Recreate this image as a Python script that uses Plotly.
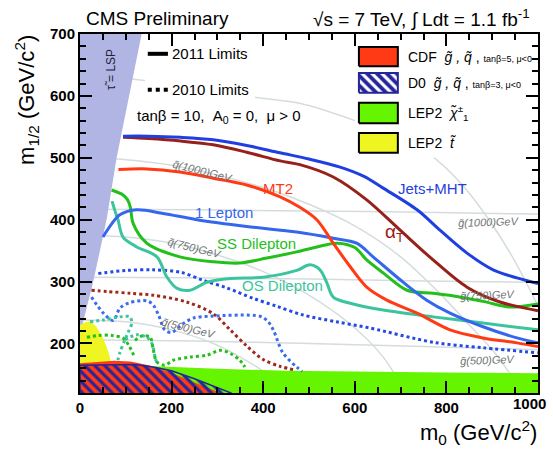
import plotly.graph_objects as go

# ---------------- data (m0, m1/2 in GeV/c^2) ----------------
# 2011 limits (solid)
jets_mht_m0 = [94, 150, 220, 291, 364, 437, 500, 568, 620, 662, 736, 786, 845, 902, 954, 1000]
jets_mht_m12 = [535, 535, 533, 529, 520, 508, 498, 485, 470, 451, 416, 383, 346, 319, 306, 297]
alphat_m0 = [94, 150, 220, 291, 364, 437, 480, 553, 626, 699, 771, 845, 917, 1000]
alphat_m12 = [533, 531, 527, 521, 509, 495, 489, 469, 432, 383, 335, 291, 267, 253]
mt2_m0 = [84, 146, 218, 291, 364, 437, 480, 517, 553, 590, 626, 670, 736, 808, 880, 954, 1000]
mt2_m12 = [481, 482, 477, 467, 456, 437, 420, 400, 362, 324, 291, 270, 249, 222, 209, 201, 195]
onelep_m0 = [50, 70, 87, 124, 182, 255, 364, 473, 553, 604, 640, 699, 757, 808, 880, 954, 1000]
onelep_m12 = [372, 394, 408, 416, 410, 400, 389, 380, 370, 362, 340, 303, 270, 249, 227, 209, 201]
ss_m0 = [69, 94, 104, 110, 116, 146, 218, 291, 349, 408, 473, 517, 561, 600, 626, 662, 714, 771, 823, 880, 939, 1000]
ss_m12 = [448, 440, 432, 420, 394, 362, 340, 332, 330, 338, 348, 356, 362, 355, 335, 314, 286, 281, 276, 268, 259, 264]
os_m0 = [70, 76, 83, 94, 124, 168, 190, 212, 240, 277, 328, 400, 473, 502, 524, 539, 553, 590, 662, 771, 880, 1000]
os_m12 = [430, 415, 400, 372, 356, 340, 307, 289, 286, 299, 305, 307, 318, 327, 319, 298, 275, 265, 254, 243, 233, 222]

# 2010 limits (dotted)
jets2010_m0 = [40, 100, 160, 220, 269, 320, 378, 430, 487, 560, 633, 771, 880, 1000]
jets2010_m12 = [313, 318, 319, 315, 302, 290, 273, 260, 246, 235, 225, 202, 193, 185]
at2010_m0 = [25, 60, 110, 160, 233, 291, 328, 364, 400, 437, 470]
at2010_m12 = [286, 284, 281, 278, 267, 248, 222, 196, 174, 163, 157]
lep2010_m0 = [25, 51, 73, 87, 109, 146, 160, 172, 185, 200, 225, 247, 284, 393, 410, 422, 443, 473, 485]
lep2010_m12 = [275, 249, 237, 257, 266, 269, 262, 245, 222, 218, 232, 241, 244, 244, 236, 222, 185, 162, 155]
os2010_m0 = [22, 51, 87, 109, 113, 105, 98, 87, 81, None, 98, 124, 146, 157, 164, 168]
os2010_m12 = [235, 238, 243, 243, 233, 218, 206, 185, 168, None, 206, 214, 210, 200, 178, 168]
ss2010_m0 = [15, 40, 70, 95, 108, 118, None, 120, 135, 153, 160, 168, 185, 204, 240, 277, 306, 328, 349, 360]
ss2010_m12 = [210, 213, 213, 208, 195, 180, None, 205, 212, 210, 190, 170, 165, 173, 178, 181, 189, 184, 173, 162]

# excluded regions (upper boundaries)
stau_m0 = [0, 29, 58, 80, 135]
stau_m12 = [215, 300, 400, 500, 700]
stop_m0 = [0, 10, 22, 35, 48, 58, 65, 70, 72]
stop_m12 = [230, 234, 236, 228, 212, 195, 178, 160, 120]
cdf_m0 = [0, 40, 75, 110, 150, 190, 230, 270, 300, 310]
cdf_m12 = [168, 170, 172, 171, 165, 155, 143, 130, 122, 120]
d0_m0 = [0, 60, 120, 160, 200, 250, 290, 330]
d0_m12 = [165, 166, 166, 162, 156, 143, 131, 120]
lep_m0 = [0, 150, 300, 450, 633, 800, 1000]
lep_m12 = [168, 163, 159, 156, 154, 153, 152]

# iso-mass contours
gl_m0 = [0, 250, 500, 750, 1000]
gl500_m12 = [206, 204, 200, 195, 190]
gl750_m12 = [307, 306, 304, 301, 299]
gl1000_m12 = [417, 416, 414, 412, 409]
sq500_m0 = [0, 100, 200, 291, 350, 400, 440]
sq500_m12 = [238, 235, 222, 200, 178, 155, 125]
sq750_m0 = [0, 100, 200, 300, 400, 500, 600, 660, 700, 712]
sq750_m12 = [375, 372, 362, 343, 316, 278, 225, 180, 135, 120]
sq1000_m0 = [0, 100, 200, 300, 400, 500, 600, 700, 780, 850, 900, 940, 965]
sq1000_m12 = [500, 497, 488, 472, 452, 425, 390, 340, 285, 230, 190, 150, 120]
sq1250_m0 = [0, 100, 200, 300, 378, 480, 600, 700, 764, 830, 889, 940, 983, 1000]
sq1250_m12 = [633, 628, 619, 607, 598, 588, 560, 530, 505, 460, 404, 345, 286, 260]

x_tickvals = [0, 200, 400, 600, 800, 1000]
y_tickvals = [200, 300, 400, 500, 600, 700]

# ---------------- styles ----------------
LAV = "#b1b5e3"
RED = "#ff3a14"
NAVY = "#25259a"
LGREEN = "#66f500"
YEL = "#eef520"
BLUE = "#1f3fe0"
DRED = "#98201a"
LBLUE = "#3566ee"
GREEN = "#22c01a"
TEAL = "#3cc49e"
GREY = "#d5dcdc"
FONT = "Liberation Sans"

fig = go.Figure()

def line(x, y, color, width=3, dash="solid", spline=True):
    fig.add_trace(go.Scatter(x=x, y=y, mode="lines", hoverinfo="skip",
                             line=dict(color=color, width=width, dash=dash,
                                       shape="spline" if spline else "linear", smoothing=0.9)))

def region(x, y, color, line_color=None, pattern=None):
    fig.add_trace(go.Scatter(x=x, y=y, mode="lines", fill="toself", fillcolor=color,
                             fillpattern=pattern, hoverinfo="skip",
                             line=dict(color=line_color or "rgba(0,0,0,0)", width=1.5 if line_color else 0)))

# grey iso-mass lines
for ys in (gl500_m12, gl750_m12, gl1000_m12):
    line(gl_m0, ys, GREY, width=1.5)
for xs, ys in ((sq500_m0, sq500_m12), (sq750_m0, sq750_m12), (sq1000_m0, sq1000_m12), (sq1250_m0, sq1250_m12)):
    line(xs, ys, GREY, width=1.5)

# white backgrounds behind legends
region([142, 382, 382, 142, 142], [593, 593, 690, 690, 593], "white")
region([600, 990, 990, 600, 600], [500, 500, 692, 692, 500], "white")

# stau LSP region
region([0] + stau_m0 + [140, 0], [100] + stau_m12 + [720, 720], LAV)
# LEP2 chargino
region(lep_m0 + [1000, 0], lep_m12 + [100, 100], LGREEN)
# LEP2 stop
region(stop_m0 + [72, 0], stop_m12 + [100, 100], YEL)
# CDF
region(cdf_m0 + [310, 0], cdf_m12 + [100, 100], RED)
# D0 hatched
region(d0_m0 + [330, 0, 0], d0_m12 + [100, 100, d0_m12[0]], "rgba(0,0,0,0)", line_color=NAVY,
       pattern=dict(shape="\\", fgcolor=NAVY, bgcolor="rgba(0,0,0,0)", size=7, solidity=0.45, fillmode="replace"))

# 2010 dotted limits
line(jets2010_m0, jets2010_m12, "#2448e8", dash="dot")
line(at2010_m0, at2010_m12, "#a0281c", dash="dot")
line(lep2010_m0, lep2010_m12, "#3a6cf0", dash="dot")
line(os2010_m0, os2010_m12, TEAL, dash="dot")
line(ss2010_m0, ss2010_m12, GREEN, dash="dot")

# 2011 solid limits
line(os_m0, os_m12, TEAL)
line(ss_m0, ss_m12, GREEN)
line(onelep_m0, onelep_m12, LBLUE)
line(mt2_m0, mt2_m12, RED)
line(alphat_m0, alphat_m12, DRED)
line(jets_mht_m0, jets_mht_m12, BLUE)

# right legend boxes
def box(x0, x1, y0, y1, color, border="black", pattern=None):
    fig.add_trace(go.Scatter(x=[x0, x1, x1, x0, x0], y=[y0, y0, y1, y1, y0], mode="lines",
                             fill="toself", fillcolor=color, fillpattern=pattern, hoverinfo="skip",
                             line=dict(color=border, width=2)))

bx0, bx1 = 609, 694
box(bx0, bx1, 648, 679, RED)
box(bx0, bx1, 605, 637, "white", border=NAVY,
    pattern=dict(shape="\\", fgcolor=NAVY, bgcolor="white", size=7, solidity=0.55, fillmode="replace"))
box(bx0, bx1, 556, 589, LGREEN)
box(bx0, bx1, 508, 540, YEL)

# left legend line samples
line([148, 192], [668, 668], "black", width=4, spline=False)
line([148, 192], [610, 610], "black", width=4, dash="dot", spline=False)

ann = []
def text(x, y, s, size=15, color="black", xanchor="center", angle=0, family=FONT, ref="data",
         yanchor="middle", xref=None, yref=None, xshift=0):
    ann.append(dict(x=x, y=y, text=s, showarrow=False, xanchor=xanchor, yanchor=yanchor,
                    textangle=angle, font=dict(family=family, size=size, color=color), xshift=xshift,
                    xref=xref or ("x" if ref == "data" else "paper"),
                    yref=yref or ("y" if ref == "data" else "paper")))

# curve labels
text(432, 451, "MT2", 15, RED)
text(769, 450, "Jets+MHT", 15, BLUE)
text(686, 379, "α<sub>T</sub>", 19, DRED)
text(314, 411, "1 Lepton", 15, LBLUE)
text(386, 362, "SS Dilepton", 15, GREEN)
text(443, 294, "OS Dilepton", 15, TEAL)

# iso-mass labels
GT = "#6f7474"
text(268, 479, "<i>q\u0303(1000)GeV</i>", 11, GT, angle=14)
text(251, 354, "<i>q\u0303(750)GeV</i>", 11, GT, angle=14)
text(236, 225, "<i>q\u0303(500)GeV</i>", 11, GT, angle=14)
text(893, 396, "<i>g\u0303(1000)GeV</i>", 11, GT, angle=-2)
text(890, 279, "<i>g\u0303(750)GeV</i>", 11, GT, angle=-2)
text(890, 173, "<i>g\u0303(500)GeV</i>", 11, GT, angle=-2)
text(68, 642, "\u03c4\u0303 = LSP", 12, "#22223a", angle=-90)

# left legend
text(197, 668, "2011 Limits", 15, xanchor="left")
text(197, 610, "2010 Limits", 15, xanchor="left")
text(120, 566, "tanβ = 10,  A<sub>0</sub> = 0,  μ &gt; 0", 15, xanchor="left")

# right legend text
small = "<span style='font-size:9px'>"
text(712, 663, "CDF  <i>g\u0303 , q\u0303</i> , " + small + "tanβ=5, μ&lt;0</span>", 14, xanchor="left")
text(712, 621, "D0  <i>g\u0303 , q\u0303</i> , " + small + "tanβ=3, μ&lt;0</span>", 14, xanchor="left")
text(712, 572, "LEP2  <i>χ\u0303</i><sup>±</sup><sub>1</sub>", 14, xanchor="left")
text(712, 524, "LEP2  <i>t\u0303</i>", 14, xanchor="left")

# header and axis titles
text(0.0087, 1.042, "CMS Preliminary", 19, xanchor="left", ref="paper")
text(0.987, 1.042, "√s = 7 TeV, ∫ Ldt = 1.1 fb<sup>-1</sup>", 19, xanchor="right", ref="paper")
text(-0.1157, 1.003, "m<sub>1/2</sub> (GeV/c<sup>2</sup>)", 22, angle=-90, ref="paper", yanchor="top")
text(1.002, -0.111, "m<sub>0</sub> (GeV/c<sup>2</sup>)", 22, xanchor="right", ref="paper")

# the last x tick label sits left-shifted (as in the original) so it stays inside the page
x_ticktext = [str(v) for v in x_tickvals]
last_label = x_ticktext[-1]
x_ticktext[-1] = ""
text(x_tickvals[-1], -0.0306, "<b>" + last_label + "</b>", 15, xanchor="right",
     xref="x", yref="paper", xshift=10)

tickfont = dict(family=FONT, size=15, color="black", weight="bold")
common = dict(ticks="inside", ticklen=12, tickwidth=1.5, tickcolor="black", showline=True,
              linecolor="black", linewidth=2, mirror="allticks", showgrid=False, zeroline=False,
              tickfont=tickfont, automargin=False)
fig.update_xaxes(range=[0, 1000], tickvals=x_tickvals, ticktext=x_ticktext,
                 minor=dict(tickmode="linear", tick0=0, dtick=50, ticks="inside", ticklen=6,
                            tickwidth=1.5, tickcolor="black", showgrid=False), **common)
fig.update_yaxes(range=[120, 700], tickvals=y_tickvals, ticktext=[str(v) for v in y_tickvals],
                 minor=dict(tickmode="linear", tick0=0, dtick=20, ticks="inside", ticklen=6,
                            tickwidth=1.5, tickcolor="black", showgrid=False), **common)

fig.update_layout(width=553, height=452, margin=dict(l=80, r=15, t=34, b=59, autoexpand=False),
                  paper_bgcolor="white", plot_bgcolor="white", showlegend=False,
                  annotations=ann)
fig.write_html("out.html")
